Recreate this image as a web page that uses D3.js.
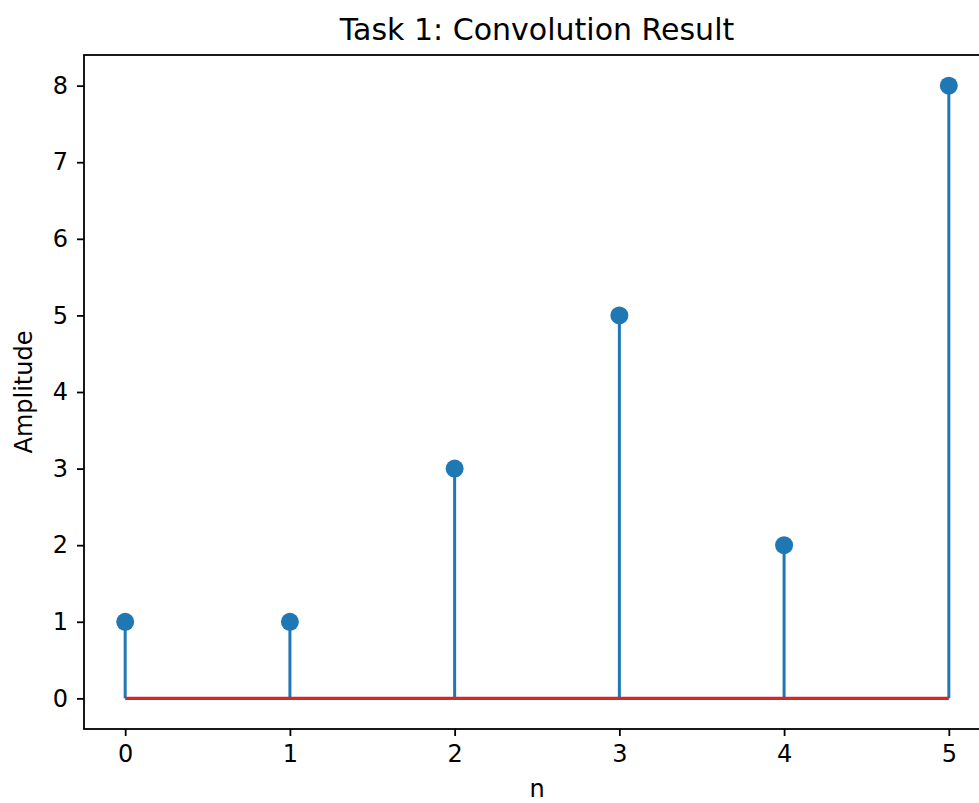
<!DOCTYPE html>
<html>
<head>
<meta charset="utf-8">
<script src="https://cdn.jsdelivr.net/npm/d3@7"></script>
<style>
  body { margin: 0; background: #fff; }
  svg text { font-family: "DejaVu Sans", sans-serif; fill: #000; }
  .axis path, .axis line { stroke: #000; }
  .axis text { font-size: 24px; }
</style>
</head>
<body>
<svg id="chart" width="979" height="803"></svg>
<script>
// data
var n = [0, 1, 2, 3, 4, 5];
var amplitude = [1, 1, 3, 5, 2, 8];
var xTicks = [0, 1, 2, 3, 4, 5];
var yTicks = [0, 1, 2, 3, 4, 5, 6, 7, 8];

var margin = {top: 55, right: -11, bottom: 74, left: 84};
var width = 979 - margin.left - margin.right;
var height = 803 - margin.top - margin.bottom;

var svg = d3.select("#chart");
var g = svg.append("g")
  .attr("transform", "translate(" + margin.left + "," + margin.top + ")");

var x = d3.scaleLinear().domain([-0.25, 5.25]).range([0, width]);
var y = d3.scaleLinear().domain([-0.4, 8.4]).range([height, 0]);

// axes
var xAxis = d3.axisBottom(x).tickValues(xTicks).tickSize(7).tickPadding(9).tickFormat(d3.format("d"));
var yAxis = d3.axisLeft(y).tickValues(yTicks).tickSize(7).tickPadding(9).tickFormat(d3.format("d"));

g.append("g").attr("class", "axis")
  .attr("transform", "translate(0," + height + ")")
  .call(xAxis)
  .call(function (s) { s.select(".domain").remove(); });
g.append("g").attr("class", "axis")
  .call(yAxis)
  .call(function (s) { s.select(".domain").remove(); });
g.selectAll(".axis line").attr("stroke-width", 1.8);

// frame
g.append("rect")
  .attr("width", width).attr("height", height)
  .attr("fill", "none").attr("stroke", "#000").attr("stroke-width", 1.8);

// stems
var data = n.map(function (d, i) { return {n: d, v: amplitude[i]}; });

g.selectAll(".stem")
  .data(data)
  .enter().append("line")
  .attr("class", "stem")
  .attr("x1", function (d) { return x(d.n); })
  .attr("x2", function (d) { return x(d.n); })
  .attr("y1", y(0))
  .attr("y2", function (d) { return y(d.v); })
  .attr("stroke", "#1f77b4")
  .attr("stroke-width", 3);

// baseline
g.append("line")
  .attr("x1", x(d3.min(n))).attr("x2", x(d3.max(n)))
  .attr("y1", y(0)).attr("y2", y(0))
  .attr("stroke", "#d62728")
  .attr("stroke-width", 3.2);

// markers
g.selectAll(".dot")
  .data(data)
  .enter().append("circle")
  .attr("class", "dot")
  .attr("cx", function (d) { return x(d.n); })
  .attr("cy", function (d) { return y(d.v); })
  .attr("r", 9)
  .attr("fill", "#1f77b4");

// labels
svg.append("text")
  .attr("x", margin.left + width / 2).attr("y", 40)
  .attr("text-anchor", "middle")
  .style("font-size", "30px")
  .text("Task 1: Convolution Result");

svg.append("text")
  .attr("x", margin.left + width / 2).attr("y", 797)
  .attr("text-anchor", "middle")
  .style("font-size", "24px")
  .text("n");

svg.append("text")
  .attr("transform", "translate(32," + (margin.top + height / 2) + ") rotate(-90)")
  .attr("text-anchor", "middle")
  .style("font-size", "24px")
  .text("Amplitude");
</script>
</body>
</html>
